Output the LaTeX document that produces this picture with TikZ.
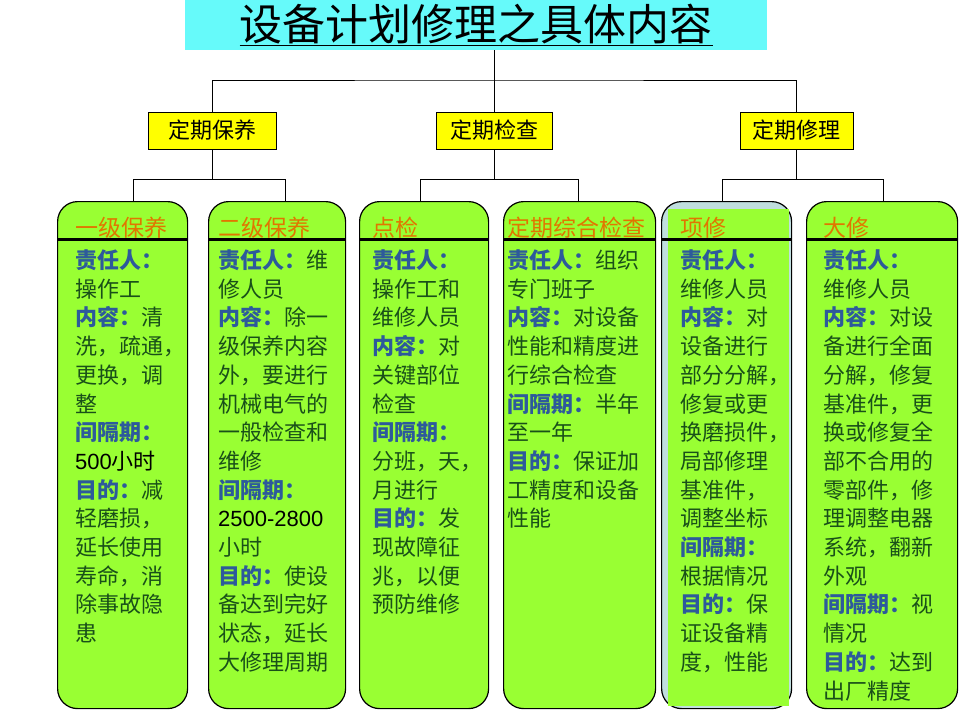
\documentclass[tikz,border=0pt]{standalone}
\usepackage{fontspec}
\setmainfont{Noto Sans CJK SC}
\newfontfamily\numfont{Liberation Sans}
\usepackage{xcolor}
\usetikzlibrary{positioning,calc}
\definecolor{titlecyan}{RGB}{102,250,250}
\definecolor{boxgreen}{RGB}{153,255,51}
\definecolor{boxyellow}{RGB}{255,255,0}
\definecolor{hdrorange}{RGB}{225,118,0}
\definecolor{lblblue}{RGB}{45,90,155}
\definecolor{txtgreen}{RGB}{25,80,25}
\definecolor{paleblue}{RGB}{192,222,222}
\newcommand{\lbl}[1]{{\color{lblblue}\bfseries #1}}
\newcommand{\hnum}[1]{{\numfont #1}}

\begin{document}
\begin{tikzpicture}[x=1pt, y=-1pt,
    titlebox/.style={fill=titlecyan, minimum width=582pt, minimum height=50pt, inner sep=0pt, font=\fontsize{43}{46}\selectfont},
    ybox/.style={draw, fill=boxyellow, line width=0.8pt, minimum height=37pt, inner sep=0pt, font=\fontsize{22}{24}\selectfont},
    gbox/.style={draw, fill=boxgreen, line width=1.2pt, rounded corners=20pt, minimum height=507pt, inner sep=0pt, anchor=north west},
    hdr/.style={anchor=base west, inner sep=0pt, text=hdrorange, font=\fontsize{23}{26}\selectfont},
    body/.style={anchor=north west, inner sep=0pt, align=left, text=txtgreen, font=\fontsize{22}{28.7}\selectfont},
    hdrline/.style={line width=3pt},
    tree/.style={line width=0.8pt}]
    \useasboundingbox (0,0) rectangle (960,720);

    % title and first level
    \node [titlebox] (titlebox) at (476,25) {\underline{设备计划修理之具体内容}};
    \node [ybox, minimum width=128pt] (maint) at (212,130.5) {定期保养};
    \node [ybox, minimum width=116pt] (check) at (494,130.5) {定期检查};
    \node [ybox, minimum width=113pt] (repair) at (796.5,130.5) {定期修理};

    % second level boxes
    \node [gbox, minimum width=130pt] (g1) at (57,201) {};
    \node [gbox, minimum width=137pt] (g2) at (208,201) {};
    \node [gbox, minimum width=129pt] (g3) at (359,201) {};
    \node [gbox, minimum width=152pt] (g4) at (503,201) {};
    \node [gbox, minimum width=130pt, fill=paleblue] (g5) at (661,201) {};
    \node [fill=boxgreen, minimum width=121pt, minimum height=497pt, inner sep=0pt, anchor=north west] (g5fill) at (668,209) {};
    \node [gbox, minimum width=151pt] (g6) at (806,201) {};

    \foreach \b in {g1,g2,g3,g4,g5,g6}
        \draw [hdrline] ([yshift=-38pt]\b.north west) -- ([yshift=-38pt]\b.north east);

    % tree lines
    \coordinate (hub) at (494,80);
    \draw [tree] (titlebox.south -| hub) -- (check.north);
    \draw [tree] (maint.north) |- (hub) -| (repair.north);
    \draw [tree] (maint.south) -- ++(0,30) coordinate (mj);
    \draw [tree] ([xshift=11pt]g1.north) |- (mj) -| ([xshift=8.5pt]g2.north);
    \draw [tree] (check.south) -- ++(0,30) coordinate (cj);
    \draw [tree] ([xshift=-3.5pt]g3.north) |- (cj) -| ([xshift=-1pt]g4.north);
    \draw [tree] (repair.south) -- ++(0,30) coordinate (rj);
    \draw [tree] ([xshift=-4pt]g5.north) |- (rj) -| ([xshift=1.5pt]g6.north);

    % headers
    \node [hdr] (h1) at (75,236.5) {一级保养};
    \node [hdr] (h2) at (218,236.5) {二级保养};
    \node [hdr] (h3) at (372,236.5) {点检};
    \node [hdr] (h4) at (507,236.5) {定期综合检查};
    \node [hdr] (h5) at (680,236.5) {项修};
    \node [hdr] (h6) at (823,236.5) {大修};

    % contents
    \node [body] (t1) at (75,249.5) {\lbl{责任人：}\\操作工\\\lbl{内容：}清\\洗，疏通，\\更换，调\\整\\\lbl{间隔期：}\\{\color{black}\hnum{500}小时}\\\lbl{目的：}减\\轻磨损，\\延长使用\\寿命，消\\除事故隐\\患};
    \node [body] (t2) at (218,249.5) {\lbl{责任人：}维\\修人员\\\lbl{内容：}除一\\级保养内容\\外，要进行\\机械电气的\\一般检查和\\维修\\\lbl{间隔期：}\\{\color{black}\hnum{2500-2800}}\\小时\\\lbl{目的：}使设\\备达到完好\\状态，延长\\大修理周期};
    \node [body] (t3) at (372,249.5) {\lbl{责任人：}\\操作工和\\维修人员\\\lbl{内容：}对\\关键部位\\检查\\\lbl{间隔期：}\\分班，天，\\月进行\\\lbl{目的：}发\\现故障征\\兆，以便\\预防维修};
    \node [body] (t4) at (507,249.5) {\lbl{责任人：}组织\\专门班子\\\lbl{内容：}对设备\\性能和精度进\\行综合检查\\\lbl{间隔期：}半年\\至一年\\\lbl{目的：}保证加\\工精度和设备\\性能};
    \node [body] (t5) at (680,249.5) {\lbl{责任人：}\\维修人员\\\lbl{内容：}对\\设备进行\\部分分解，\\修复或更\\换磨损件，\\局部修理\\基准件，\\调整坐标\\\lbl{间隔期：}\\根据情况\\\lbl{目的：}保\\证设备精\\度，性能};
    \node [body] (t6) at (823,249.5) {\lbl{责任人：}\\维修人员\\\lbl{内容：}对设\\备进行全面\\分解，修复\\基准件，更\\换或修复全\\部不合用的\\零部件，修\\理调整电器\\系统，翻新\\外观\\\lbl{间隔期：}视\\情况\\\lbl{目的：}达到\\出厂精度};
\end{tikzpicture}
\end{document}
